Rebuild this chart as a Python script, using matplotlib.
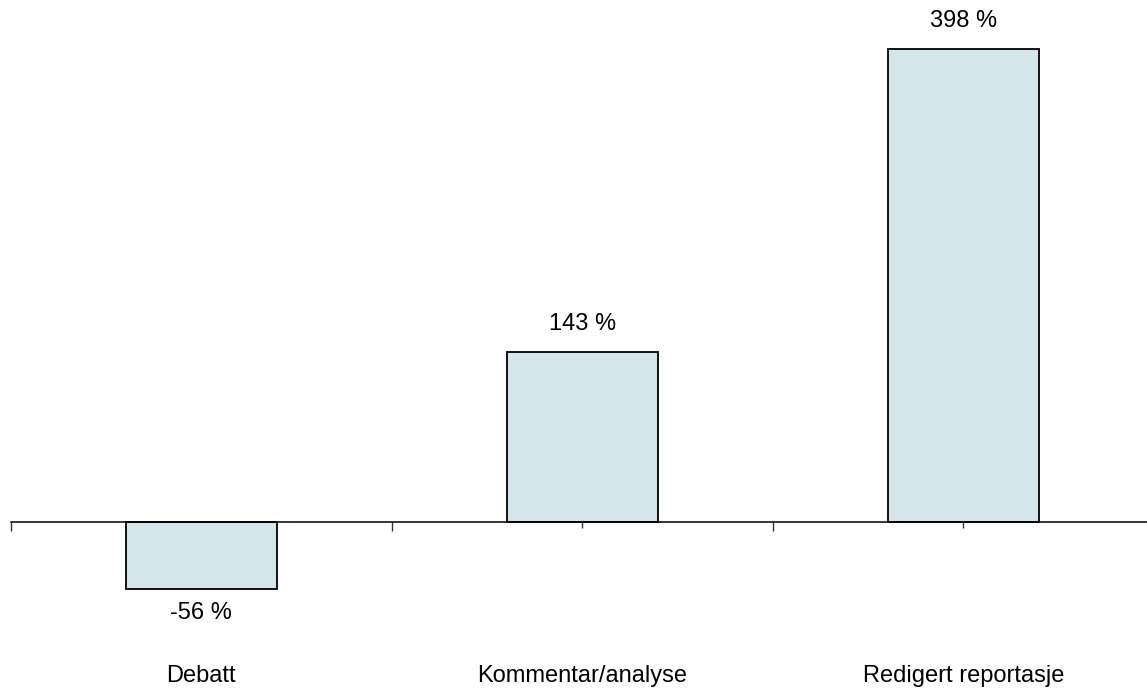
import matplotlib
matplotlib.use("Agg")
import matplotlib.pyplot as plt
from matplotlib.transforms import blended_transform_factory

categories = ["Debatt", "Kommentar/analyse", "Redigert reportasje"]
values = [-56, 143, 398]
value_labels = ["-56 %", "143 %", "398 %"]

plt.rcParams['font.family'] = ['Liberation Sans', 'DejaVu Sans']

W, H = 1147, 691
fig = plt.figure(figsize=(W / 100, H / 100), dpi=100)
fig.patch.set_facecolor("white")

scale = 1.1884  # px per unit
y0_px = H - 522
ymin, ymax = -120, 420
left_px = 10.8
cat_w = 381
ax = fig.add_axes([left_px / W, (y0_px + ymin * scale) / H,
                   3 * cat_w / W, (ymax - ymin) * scale / H])
ax.set_xlim(0, 3)
ax.set_ylim(ymin, ymax)
ax.patch.set_alpha(0)

xs = [i + 0.5 for i in range(len(categories))]
ax.bar(xs, values, width=151 / cat_w, color="#d4e6e9", edgecolor="black",
       linewidth=1.3, zorder=2)

for sp in ["left", "right", "top"]:
    ax.spines[sp].set_visible(False)
ax.spines["bottom"].set_position(("data", 0))
ax.spines["bottom"].set_linewidth(1.1)
ax.spines["bottom"].set_zorder(3)
ax.set_yticks([])
ax.set_xticks([0, 1, 2, 3])
ax.set_xticks(xs, minor=True)
ax.tick_params(axis="x", which="major", direction="out", length=6.2, width=1.0,
               labelbottom=False, color="#333333")
ax.tick_params(axis="x", which="minor", direction="out", length=4.5, width=1.0,
               labelbottom=False, color="#333333")

for x, v, lab in zip(xs, values, value_labels):
    off = 28 if v >= 0 else -24
    ax.annotate(lab, (x, v), xytext=(0, off), textcoords="offset pixels",
                ha="center", va="center", fontsize=17, color="black",
                annotation_clip=False)

tr = blended_transform_factory(ax.transData, fig.transFigure)
for x, c in zip(xs, categories):
    ax.text(x, 15 / H, c, transform=tr, ha="center", va="center",
            fontsize=17, color="black")

fig.savefig("out.png", dpi=100, facecolor="white")
